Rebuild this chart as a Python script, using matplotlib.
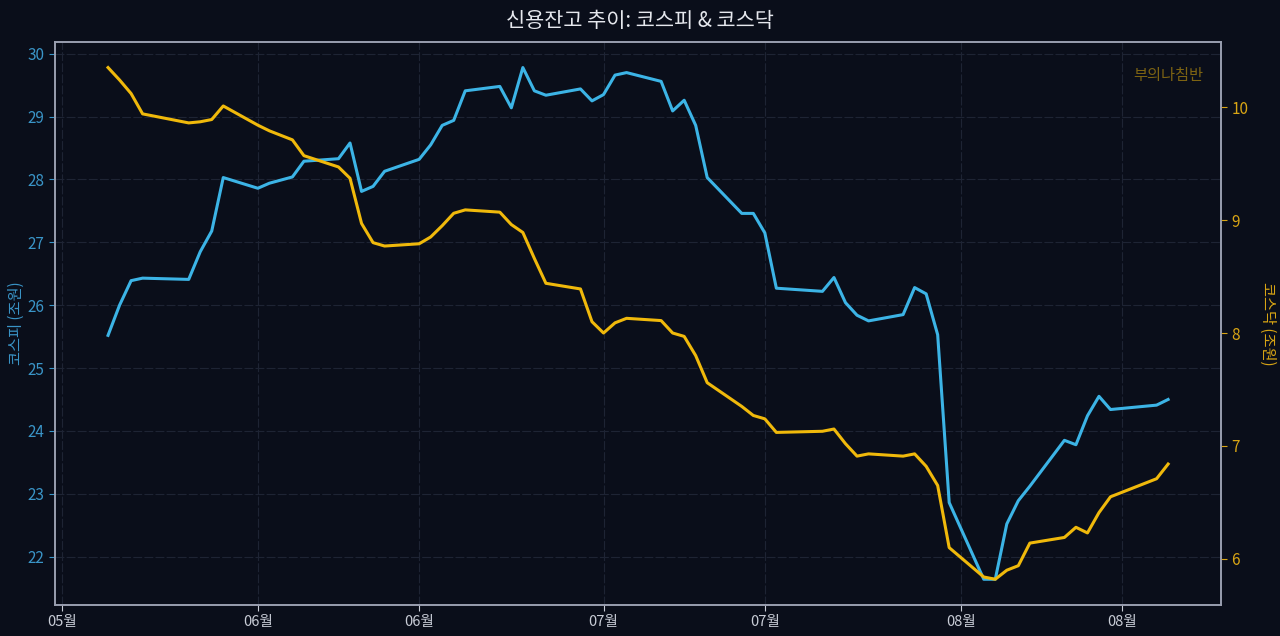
import matplotlib
matplotlib.use('Agg')
import matplotlib.pyplot as plt
import matplotlib.dates as mdates
import pandas as pd

plt.rcParams['font.family'] = ['Noto Sans CJK KR', 'DejaVu Sans']
plt.rcParams['axes.unicode_minus'] = False

# --- 데이터 (조원) ---
dates = pd.to_datetime([
    '2026-05-19', '2026-05-20', '2026-05-21', '2026-05-22',
    '2026-05-26', '2026-05-27', '2026-05-28', '2026-05-29',
    '2026-06-01', '2026-06-02', '2026-06-04', '2026-06-05',
    '2026-06-08', '2026-06-09', '2026-06-10', '2026-06-11', '2026-06-12',
    '2026-06-15', '2026-06-16', '2026-06-17', '2026-06-18', '2026-06-19',
    '2026-06-22', '2026-06-23', '2026-06-24', '2026-06-25', '2026-06-26',
    '2026-06-29', '2026-06-30', '2026-07-01', '2026-07-02', '2026-07-03',
    '2026-07-06', '2026-07-07', '2026-07-08', '2026-07-09', '2026-07-10',
    '2026-07-13', '2026-07-14', '2026-07-15', '2026-07-16',
    '2026-07-20', '2026-07-21', '2026-07-22', '2026-07-23', '2026-07-24',
    '2026-07-27', '2026-07-28', '2026-07-29', '2026-07-30', '2026-07-31',
    '2026-08-03', '2026-08-04', '2026-08-05', '2026-08-06', '2026-08-07',
    '2026-08-10', '2026-08-11', '2026-08-12', '2026-08-13', '2026-08-14',
    '2026-08-18', '2026-08-19',
])

kospi = [
    25.52, 26.00, 26.39, 26.43,
    26.41, 26.85, 27.18, 28.03,
    27.86, 27.94, 28.04, 28.29,
    28.33, 28.58, 27.81, 27.89, 28.13,
    28.32, 28.55, 28.86, 28.94, 29.41,
    29.48, 29.14, 29.78, 29.41, 29.34,
    29.44, 29.25, 29.35, 29.66, 29.70,
    29.56, 29.09, 29.26, 28.86, 28.03,
    27.46, 27.46, 27.15, 26.27,
    26.22, 26.44, 26.04, 25.84, 25.75,
    25.85, 26.28, 26.18, 25.53, 22.86,
    21.64, 21.64, 22.52, 22.89, 23.12,
    23.85, 23.78, 24.24, 24.55, 24.34,
    24.41, 24.50,
]

kosdaq = [
    10.35, 10.24, 10.12, 9.94,
    9.86, 9.87, 9.89, 10.01,
    9.84, 9.79, 9.71, 9.57,
    9.47, 9.37, 8.97, 8.80, 8.77,
    8.79, 8.85, 8.95, 9.06, 9.09,
    9.07, 8.96, 8.89, 8.66, 8.44,
    8.39, 8.10, 8.00, 8.09, 8.13,
    8.11, 8.00, 7.97, 7.80, 7.56,
    7.35, 7.27, 7.24, 7.12,
    7.13, 7.15, 7.02, 6.91, 6.93,
    6.91, 6.93, 6.82, 6.65, 6.10,
    5.84, 5.82, 5.90, 5.94, 6.14,
    6.19, 6.28, 6.23, 6.41, 6.55,
    6.71, 6.84,
]

# --- 색상 ---
BG = '#0a0e1a'
BLUE = '#3cb4e6'
GOLD = '#f0b90b'
BLUE_TXT = '#3a95c8'
GOLD_TXT = '#d9a514'
SPINE = '#9a9fb0'

fig = plt.figure(figsize=(12.8, 6.36), dpi=100, facecolor=BG)
ax = fig.add_axes([0.043, 0.049, 0.911, 0.885])
ax.set_facecolor(BG)
ax2 = ax.twinx()

ax.plot(dates, kospi, color=BLUE, lw=2.2, zorder=3)
ax2.plot(dates, kosdaq, color=GOLD, lw=2.2, zorder=3)

ax.xaxis.set_major_locator(mdates.DayLocator(bymonthday=[1, 15]))
ax.xaxis.set_major_formatter(mdates.DateFormatter('%m월'))

ax.grid(True, color='#1e2434', lw=0.8, ls=(0, (8, 2)))
ax.set_axisbelow(True)

for a in (ax, ax2):
    for s in a.spines.values():
        s.set_color(SPINE)
        s.set_linewidth(1.2)

ax.tick_params(axis='x', colors='#c8ccd6', labelsize=10.5, length=4)
ax.tick_params(axis='y', colors=BLUE_TXT, labelsize=11, length=4)
ax2.tick_params(axis='y', colors=GOLD_TXT, labelsize=11, length=4)

ax.set_ylabel('코스피 (조원)', color=BLUE_TXT, fontsize=11, labelpad=2)
ax2.set_ylabel('코스닥 (조원)', color=GOLD_TXT, fontsize=11, rotation=270, labelpad=20)

fig.suptitle('신용잔고 추이: 코스피 & 코스닥', color='#e6e8ee', fontsize=15, y=0.985)

ax2.text(0.985, 0.955, '부의나침반', transform=ax2.transAxes, ha='right', va='top',
         color=GOLD, alpha=0.5, fontsize=11)

fig.savefig('out.png', dpi=100, facecolor=BG)
